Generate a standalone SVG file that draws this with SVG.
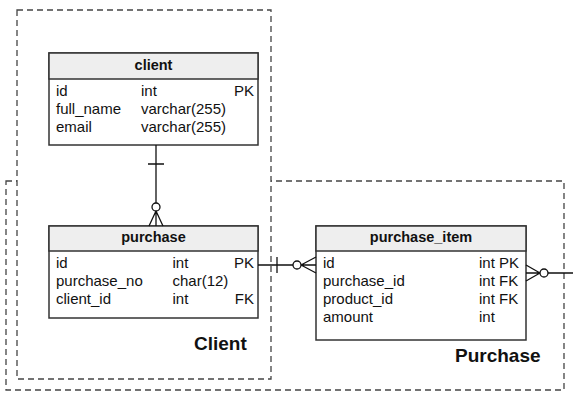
<svg xmlns="http://www.w3.org/2000/svg" width="573" height="401" viewBox="0 0 573 401">
<style>
.grp{fill:#fff;stroke:#444;stroke-width:1.3;stroke-dasharray:6 4}
.tb{fill:#fff;stroke:#333;stroke-width:1.5}
.hd{fill:#eeeeee;stroke:#333;stroke-width:1.5}
text{font-family:"Liberation Sans",Arial,sans-serif;fill:#111}
.t{font-size:15px}
.h{font-size:14.5px;font-weight:bold;text-anchor:middle}
.g{font-size:19px;font-weight:bold}
.e{text-anchor:end}
.c{stroke:#111;stroke-width:1.3;fill:none}
.o{stroke:#111;stroke-width:1.3;fill:#fff}
</style>
<g id="group-purchase">
<rect class="grp" x="6" y="181" width="558" height="209"/>
<text class="g" x="455" y="362">Purchase</text>
</g>
<g id="group-client">
<rect class="grp" x="17" y="10" width="254" height="369"/>
<text class="g" x="194" y="350">Client</text>
</g>
<g id="client">
<rect class="tb" x="49" y="53" width="209" height="92"/>
<rect class="hd" x="49" y="53" width="209" height="26"/>
<text class="h" x="153.5" y="70">client</text>
<text class="t" x="56" y="96">id</text><text class="t" x="141" y="96">int</text><text class="t e" x="254" y="96">PK</text>
<text class="t" x="56" y="114">full_name</text><text class="t" x="141" y="114">varchar(255)</text>
<text class="t" x="56" y="132">email</text><text class="t" x="141" y="132">varchar(255)</text>
</g>
<g id="purchase">
<rect class="tb" x="49" y="226" width="209" height="92"/>
<rect class="hd" x="49" y="226" width="209" height="25"/>
<text class="h" x="153.5" y="242">purchase</text>
<text class="t" x="56" y="268">id</text><text class="t" x="172.5" y="268">int</text><text class="t e" x="254" y="268">PK</text>
<text class="t" x="56" y="286">purchase_no</text><text class="t" x="172.5" y="286">char(12)</text>
<text class="t" x="56" y="304">client_id</text><text class="t" x="172.5" y="304">int</text><text class="t e" x="254" y="304">FK</text>
</g>
<g id="purchase_item">
<rect class="tb" x="316" y="226" width="210" height="114"/>
<rect class="hd" x="316" y="226" width="210" height="25"/>
<text class="h" x="421" y="242">purchase_item</text>
<text class="t" x="323" y="268">id</text><text class="t" x="479" y="268">int PK</text>
<text class="t" x="323" y="286">purchase_id</text><text class="t" x="479" y="286">int FK</text>
<text class="t" x="323" y="304">product_id</text><text class="t" x="479" y="304">int FK</text>
<text class="t" x="323" y="322">amount</text><text class="t" x="479" y="322">int</text>
</g>
<g id="connectors">
<path class="c" d="M156 145V226M148 164H164M156 211L149 226M156 211L163 226"/>
<circle class="o" cx="156" cy="207" r="4"/>
<path class="c" d="M258 265H316M277 257V273M301 265L316 257M301 265L316 273"/>
<circle class="o" cx="297" cy="265" r="4"/>
<path class="c" d="M526 265L540 273M526 281L540 273M526 273H573"/>
<circle class="o" cx="544" cy="273" r="4"/>
</g>
</svg>
